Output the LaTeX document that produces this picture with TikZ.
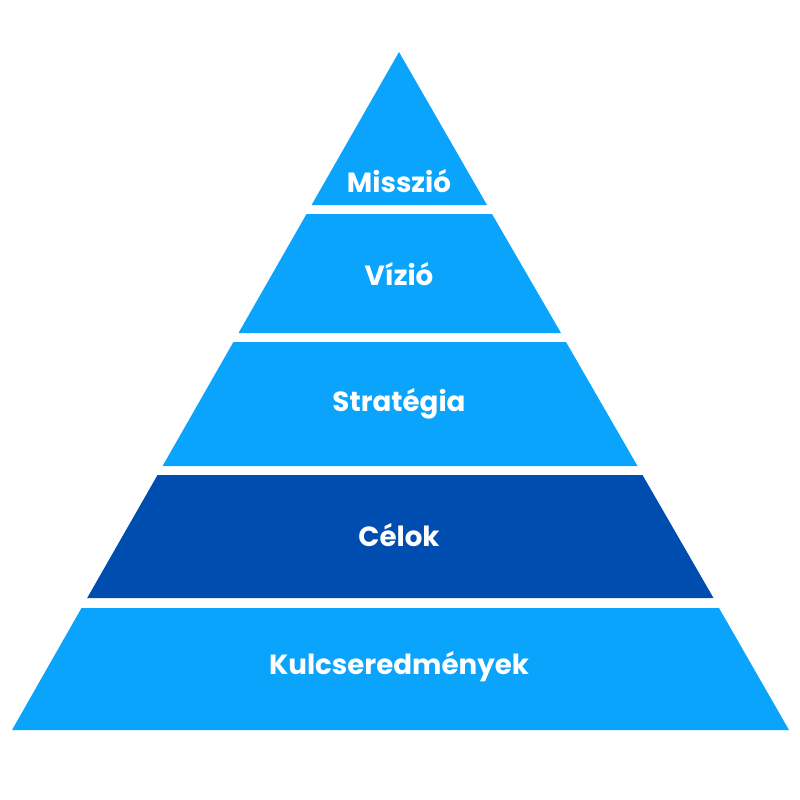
\documentclass[tikz,border=0pt]{standalone}
\usepackage{fontspec}
\setmainfont{Poppins}
\definecolor{lb}{HTML}{0AA4FC}
\definecolor{db}{HTML}{004DB0}
\begin{document}
\begin{tikzpicture}[x=1pt,y=-1pt,
  lbl/.style={text=white,font=\bfseries\fontsize{27.7}{32}\selectfont}]
\useasboundingbox (0,0) rectangle (800,800);
\fill[lb] (399,52) -- (487,205) -- (311.6,205) -- cycle;
\fill[lb] (306.5,214) -- (492,214) -- (561,333) -- (238.5,333) -- cycle;
\fill[lb] (233.4,342) -- (566,342) -- (637.5,466) -- (162.6,466) -- cycle;
\fill[db] (157.5,475) -- (642.5,475) -- (713.5,598) -- (87.2,598) -- cycle;
\fill[lb] (81.5,608) -- (719,608) -- (789,730) -- (12,730) -- cycle;
\node[lbl] (m) at (399,181) {Misszió};
\node[lbl] (v) at (399,274) {Vízió};
\node[lbl] (s) at (399,404) {Stratégia};
\node[lbl] (c) at (399,535) {Célok};
\node[lbl] (k) at (399,667) {Kulcseredmények};
\end{tikzpicture}
\end{document}
